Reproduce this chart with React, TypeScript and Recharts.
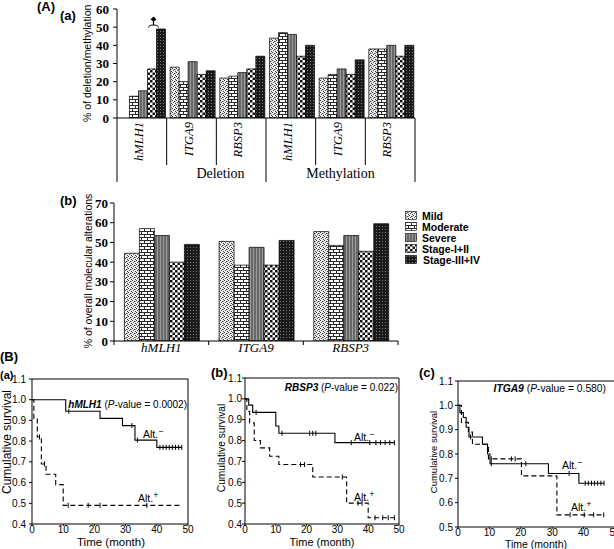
import React from "react";
import { BarChart, Bar, XAxis, YAxis, Legend, ComposedChart, Line, ReferenceLine } from "recharts";

const SERIF = "'Liberation Serif', 'Times New Roman', serif";
const SANS = "'Liberation Sans', Arial, sans-serif";

// ---- panel A(a): deletion / methylation by gene
const groupsA = ["Deletion", "Deletion", "Deletion", "Methylation", "Methylation", "Methylation"];
const genesA = ["hMLH1", "ITGA9", "RBSP3", "hMLH1", "ITGA9", "RBSP3"];
const mildA = [0, 28, 22, 44, 22, 38];
const moderateA = [12, 20, 23, 47, 24, 38];
const severeA = [15, 31, 25, 46, 27, 40];
const earlyA = [27, 24, 27, 34, 24, 34];
const lateA = [49, 26, 34, 40, 32, 40];
const ticksA = [0, 10, 20, 30, 40, 50, 60];

// ---- panel A(b): overall molecular alterations
const genesB = ["hMLH1", "ITGA9", "RBSP3"];
const mildB = [44.5, 50.5, 55.5];
const moderateB = [57, 38.5, 48.5];
const severeB = [53.5, 47.5, 53.5];
const earlyB = [40, 38.5, 45.5];
const lateB = [49, 51, 59.5];
const ticksB = [0, 10, 20, 30, 40, 50, 60, 70];

const seriesNames = ["Mild", "Moderate", "Severe", "Stage-I+II", "Stage-III+IV"];
const seriesKeys = ["mild", "moderate", "severe", "early", "late"];
const seriesFills = ["url(#pMild)", "url(#pModerate)", "url(#pSevere)", "url(#pEarly)", "url(#pLate)"];

// ---- panel B: Kaplan-Meier curves
const kmTicks = [0, 10, 20, 30, 40, 50];
const kmTicksLow = [0.4, 0.5, 0.6, 0.7, 0.8, 0.9, 1.0, 1.1];
const kmTicksHigh = [0.5, 0.6, 0.7, 0.8, 0.9, 1.0, 1.1];

const hmlh1NegTime = [0, 10.8, 21.8, 29, 33, 40, 48];
const hmlh1NegSurv = [1.0, 0.944, 0.91, 0.875, 0.805, 0.77, 0.77];
const hmlh1NegCensor = [11.8, 32, 33.8, 41, 42, 43, 44, 45, 46, 47, 48];
const hmlh1PosTime = [0, 0.6, 1.7, 3, 4.5, 7.6, 10, 48];
const hmlh1PosSurv = [1.0, 0.91, 0.82, 0.69, 0.64, 0.59, 0.49, 0.49];
const hmlh1PosCensor = [2.4, 4, 11.6, 18, 21.8, 36.8];

const rbsp3NegTime = [0, 1.2, 2.5, 10, 11, 29.2, 48.5];
const rbsp3NegSurv = [1.0, 0.97, 0.935, 0.87, 0.835, 0.79, 0.79];
const rbsp3NegCensor = [3.6, 12, 21, 22, 23, 34.5, 40.5, 42.5, 44, 45.5, 47, 48.5];
const rbsp3PosTime = [0, 0.6, 1.5, 3, 5, 8, 11, 22, 33, 40, 48.5];
const rbsp3PosSurv = [1.0, 0.94, 0.885, 0.8, 0.765, 0.725, 0.685, 0.625, 0.5, 0.43, 0.43];
const rbsp3PosCensor = [18, 19.3, 31.6, 36.7, 38, 42.2, 44.7, 46.5, 48.5];

const itga9NegTime = [0, 0.6, 1.7, 2.6, 3.5, 7.8, 9.4, 10.2, 28.8, 38.5, 46.5];
const itga9NegSurv = [1.0, 0.97, 0.95, 0.91, 0.87, 0.84, 0.8, 0.76, 0.72, 0.68, 0.68];
const itga9NegCensor = [4, 10.6, 21.6, 35.4, 40.5, 41.5, 42.5, 43.5, 44.5, 45.5, 46.5];
const itga9PosTime = [0, 1.1, 3.3, 4.6, 9.7, 20.2, 31.5, 46.5];
const itga9PosSurv = [1.0, 0.93, 0.89, 0.84, 0.78, 0.71, 0.55, 0.55];
const itga9PosCensor = [10.6, 17, 18.2, 35.7, 40.2, 43.2, 46.4];

const tableA = genesA.map((g, i) => ({
  id: `${groupsA[i]}-${g}`,
  mild: mildA[i],
  moderate: moderateA[i],
  severe: severeA[i],
  early: earlyA[i],
  late: lateA[i],
}));

const tableB = genesB.map((g, i) => ({
  gene: g,
  mild: mildB[i],
  moderate: moderateB[i],
  severe: severeB[i],
  early: earlyB[i],
  late: lateB[i],
}));

const steps = (times: number[], surv: number[]) => times.map((t, i) => ({ t, s: surv[i] }));
const censored = (times: number[], surv: number[], marks: number[]) =>
  marks.map((c) => {
    let s = surv[0];
    times.forEach((t, i) => {
      if (t <= c) s = surv[i];
    });
    return { t: c, s };
  });

// layout of A(a)
const A_LEFT = 117;
const A_RIGHT = 415;
const A_TOP = 9;
const A_BOTTOM = 118;
const A_BAND = (A_RIGHT - A_LEFT) / genesA.length;

// layout of A(b) (chart coords, chart placed at top 180)
const B_OFFSET = 180;
const B_LEFT = 114;
const B_RIGHT = 398;
const B_TOP = 23;
const B_BOTTOM = 161;
const B_BAND = (B_RIGHT - B_LEFT) / genesB.length;

function GeneTickA(props: any) {
  const { x, payload } = props;
  const i = tableA.findIndex((d) => d.id === payload.value);
  const left = x - A_BAND / 2;
  const long = i === 0 || i === 3;
  return (
    <g>
      <line x1={left} x2={left} y1={A_BOTTOM} y2={long ? 182 : 165} stroke="#000" />
      {i === genesA.length - 1 && (
        <line x1={x + A_BAND / 2} x2={x + A_BAND / 2} y1={A_BOTTOM} y2={182} stroke="#000" />
      )}
      <text
        transform={`translate(${x + 1},${A_BOTTOM + 4}) rotate(-90)`}
        textAnchor="end"
        fontFamily={SERIF}
        fontStyle="italic"
        fontSize={12.5}
        fill="#000"
      >
        {genesA[i]}
      </text>
      {i === 1 && (
        <text x={x + 29} y={178} textAnchor="middle" fontFamily={SERIF} fontSize={14} fill="#000">
          {groupsA[i]}
        </text>
      )}
      {i === 4 && (
        <text x={x} y={178} textAnchor="middle" fontFamily={SERIF} fontSize={14} fill="#000">
          {groupsA[i]}
        </text>
      )}
    </g>
  );
}

function GeneTickB(props: any) {
  const { x, payload } = props;
  const i = genesB.indexOf(payload.value);
  const half = B_BAND / 2;
  return (
    <g>
      <line x1={x - half} x2={x - half} y1={B_BOTTOM} y2={B_BOTTOM + 4} stroke="#000" />
      {i === genesB.length - 1 && (
        <line x1={x + half} x2={x + half} y1={B_BOTTOM} y2={B_BOTTOM + 4} stroke="#000" />
      )}
      <text x={x} y={B_BOTTOM + 11} textAnchor="middle" fontFamily={SERIF} fontStyle="italic" fontSize={13} fill="#000">
        {payload.value}
      </text>
    </g>
  );
}

// value ticks for the bar charts' y axes, mapped with the same linear range as the plot area
const ValueTicks = ({ ticks, max, left, top, bottom, gap }: { ticks: number[]; max: number; left: number; top: number; bottom: number; gap: number }) => (
  <g>
    {ticks.map((v) => {
      const y = bottom - (v / max) * (bottom - top);
      return (
        <g key={v}>
          <line x1={left - 4} x2={left} y1={y} y2={y} stroke="#000" />
          <text x={left - 4 - gap} y={y + 4.5} textAnchor="end" fontFamily={SERIF} fontWeight="bold" fontSize={13} fill="#000">
            {v}
          </text>
        </g>
      );
    })}
  </g>
);

const LegendB = () => (
  <div style={{ fontFamily: SANS, fontWeight: "bold", fontSize: 10.5, color: "#000" }}>
    {seriesNames.map((n, j) => (
      <div key={n} style={{ display: "flex", alignItems: "center", height: 11 }}>
        <svg width={12} height={9}>
          <rect x={0.5} y={0.5} width={11} height={8} fill={seriesFills[j]} stroke="#000" strokeWidth={0.6} />
        </svg>
        <span style={{ marginLeft: j === 4 ? 6 : 5 }}>{n}</span>
      </div>
    ))}
  </div>
);

const CensorMark = (p: any) => {
  if (p.cx == null || p.cy == null) return <g key={`c-${p.index}`} />;
  return <line key={`c-${p.index}`} x1={p.cx} x2={p.cx} y1={p.cy - 2.5} y2={p.cy + 2.5} stroke="#000" strokeWidth={1} />;
};

type KMProps = {
  left: number;
  top: number;
  width: number;
  height: number;
  mTop: number;
  mRight: number;
  yWidth: number;
  xHeight: number;
  yDomain: [number, number];
  yTicks: number[];
  yGap: number;
  neg: { t: number; s: number }[];
  pos: { t: number; s: number }[];
  negC: { t: number; s: number }[];
  posC: { t: number; s: number }[];
};

function KMPanel(k: KMProps) {
  const tickStyle = { fontSize: 10, fill: "#000", fontFamily: SANS };
  return (
    <div style={{ position: "absolute", left: k.left, top: k.top }}>
      <ComposedChart width={k.width} height={k.height} margin={{ top: k.mTop, right: k.mRight, bottom: 0, left: 0 }}>
        <XAxis
          type="number"
          dataKey="t"
          domain={[0, 50]}
          ticks={kmTicks}
          interval={0}
          height={k.xHeight}
          tickSize={2}
          tickMargin={0}
          tick={tickStyle}
          axisLine={{ stroke: "#000" }}
          tickLine={{ stroke: "#000" }}
          allowDataOverflow
        />
        <YAxis
          type="number"
          dataKey="s"
          domain={k.yDomain}
          ticks={k.yTicks}
          interval={0}
          width={k.yWidth}
          tickSize={3}
          tickMargin={k.yGap}
          tick={tickStyle}
          tickFormatter={(v: number) => v.toFixed(1)}
          axisLine={{ stroke: "#000" }}
          tickLine={{ stroke: "#000" }}
          allowDataOverflow
        />
        <ReferenceLine y={k.yDomain[1]} stroke="#000" />
        <ReferenceLine x={50} stroke="#000" />
        <Line data={k.pos} dataKey="s" type="stepAfter" stroke="#000" strokeWidth={1.1} strokeDasharray="5 3" dot={false} isAnimationActive={false} />
        <Line data={k.neg} dataKey="s" type="stepAfter" stroke="#000" strokeWidth={1.1} dot={false} isAnimationActive={false} />
        <Line data={k.posC} dataKey="s" stroke="none" dot={CensorMark} activeDot={false} isAnimationActive={false} />
        <Line data={k.negC} dataKey="s" stroke="none" dot={CensorMark} activeDot={false} isAnimationActive={false} />
      </ComposedChart>
    </div>
  );
}

const AltLabel = ({ x, y, sign, size = 10.5 }: { x: number; y: number; sign: string; size?: number }) => (
  <text x={x} y={y} fontFamily={SANS} fontSize={size} fill="#000">
    Alt.
    <tspan dy={-4} fontSize={size * 0.85}>{sign}</tspan>
  </text>
);

const KMTitle = ({ x, y, gene, p, size }: { x: number; y: number; gene: string; p: string; size: number }) => (
  <text x={x} y={y} textAnchor="end" fontFamily={SANS} fontSize={size} fill="#000">
    <tspan fontWeight="bold" fontStyle="italic">{gene}</tspan>
    {" ("}
    <tspan fontStyle="italic">P</tspan>
    {`-value = ${p})`}
  </text>
);

export default function App() {
  return (
    <div style={{ position: "absolute", left: 0, top: 0, width: 614, height: 549, overflow: "hidden", background: "#fff" }}>
      <svg width={0} height={0} style={{ position: "absolute" }}>
        <defs>
          <pattern id="pMild" width={4} height={4} patternUnits="userSpaceOnUse">
            <rect width={4} height={4} fill="#ececec" />
            <rect x={0} y={0} width={1} height={1} fill="#3a3a3a" />
            <rect x={2} y={1} width={1} height={1} fill="#3a3a3a" />
            <rect x={1} y={2} width={1} height={1} fill="#5a5a5a" />
            <rect x={3} y={3} width={1} height={1} fill="#3a3a3a" />
            <rect x={3} y={1} width={1} height={1} fill="#9a9a9a" />
          </pattern>
          <pattern id="pModerate" width={6} height={6} patternUnits="userSpaceOnUse">
            <rect width={6} height={6} fill="#fff" />
            <rect x={0} y={0} width={6} height={1} fill="#2a2a2a" />
            <rect x={0} y={3} width={6} height={1} fill="#2a2a2a" />
            <rect x={0} y={0} width={1} height={3} fill="#2a2a2a" />
            <rect x={3} y={3} width={1} height={3} fill="#2a2a2a" />
          </pattern>
          <pattern id="pSevere" width={3} height={3} patternUnits="userSpaceOnUse">
            <rect width={3} height={3} fill="#686868" />
            <rect x={1} y={0} width={1} height={3} fill="#9c9c9c" />
          </pattern>
          <pattern id="pEarly" width={5} height={5} patternUnits="userSpaceOnUse">
            <rect width={5} height={5} fill="#fff" />
            <rect x={0} y={0} width={2.5} height={2.5} fill="#111" />
            <rect x={2.5} y={2.5} width={2.5} height={2.5} fill="#111" />
          </pattern>
          <pattern id="pLate" width={3} height={3} patternUnits="userSpaceOnUse">
            <rect width={3} height={3} fill="#1a1a1a" />
            <rect x={1} y={1} width={1} height={1} fill="#7a7a7a" />
          </pattern>
        </defs>
      </svg>

      {/* A(a) */}
      <div style={{ position: "absolute", left: 0, top: 0 }}>
        <BarChart width={614} height={190} data={tableA} margin={{ top: A_TOP, right: 614 - A_RIGHT, bottom: 0, left: A_LEFT - 40 }} barCategoryGap="7%" barGap={0}>
          <XAxis dataKey="id" height={190 - A_BOTTOM} interval={0} tick={GeneTickA} tickLine={false} axisLine={{ stroke: "#000" }} />
          <YAxis type="number" width={40} domain={[0, ticksA[ticksA.length - 1]]} ticks={ticksA} tick={false} tickLine={false} axisLine={{ stroke: "#000" }} allowDataOverflow />
          {seriesKeys.map((key, j) => (
            <Bar key={key} dataKey={key} name={seriesNames[j]} fill={seriesFills[j]} stroke="#000" strokeWidth={0.7} isAnimationActive={false} />
          ))}
        </BarChart>
      </div>

      {/* A(b) */}
      <div style={{ position: "absolute", left: 0, top: B_OFFSET }}>
        <BarChart width={614} height={180} data={tableB} margin={{ top: B_TOP, right: 614 - B_RIGHT, bottom: 0, left: B_LEFT - 40 }} barCategoryGap="11%" barGap={0}>
          <XAxis dataKey="gene" height={180 - B_BOTTOM} interval={0} tick={GeneTickB} tickLine={false} axisLine={{ stroke: "#000" }} />
          <YAxis type="number" width={40} domain={[0, ticksB[ticksB.length - 1]]} ticks={ticksB} tick={false} tickLine={false} axisLine={{ stroke: "#000" }} allowDataOverflow />
          <Legend layout="vertical" align="center" verticalAlign="middle" wrapperStyle={{ left: 405, top: 30, width: 110 }} content={LegendB} />
          {seriesKeys.map((key, j) => (
            <Bar key={key} dataKey={key} name={seriesNames[j]} fill={seriesFills[j]} stroke="#000" strokeWidth={0.7} isAnimationActive={false} />
          ))}
        </BarChart>
      </div>

      {/* B(a) hMLH1 */}
      <KMPanel
        left={0}
        top={370}
        width={200}
        height={179}
        mTop={9}
        mRight={12}
        yWidth={32}
        xHeight={25}
        yDomain={[0.4, 1.1]}
        yTicks={kmTicksLow}
        yGap={3}
        neg={steps(hmlh1NegTime, hmlh1NegSurv)}
        pos={steps(hmlh1PosTime, hmlh1PosSurv)}
        negC={censored(hmlh1NegTime, hmlh1NegSurv, hmlh1NegCensor)}
        posC={censored(hmlh1PosTime, hmlh1PosSurv, hmlh1PosCensor)}
      />
      {/* B(b) RBSP3 */}
      <KMPanel
        left={200}
        top={370}
        width={210}
        height={179}
        mTop={8}
        mRight={11}
        yWidth={45}
        xHeight={25}
        yDomain={[0.4, 1.1]}
        yTicks={kmTicksLow}
        yGap={0}
        neg={steps(rbsp3NegTime, rbsp3NegSurv)}
        pos={steps(rbsp3PosTime, rbsp3PosSurv)}
        negC={censored(rbsp3NegTime, rbsp3NegSurv, rbsp3NegCensor)}
        posC={censored(rbsp3PosTime, rbsp3PosSurv, rbsp3PosCensor)}
      />
      {/* B(c) ITGA9 */}
      <KMPanel
        left={404}
        top={370}
        width={211}
        height={179}
        mTop={11}
        mRight={0}
        yWidth={54}
        xHeight={22}
        yDomain={[0.5, 1.1]}
        yTicks={kmTicksHigh}
        yGap={2}
        neg={steps(itga9NegTime, itga9NegSurv)}
        pos={steps(itga9PosTime, itga9PosSurv)}
        negC={censored(itga9NegTime, itga9NegSurv, itga9NegCensor)}
        posC={censored(itga9PosTime, itga9PosSurv, itga9PosCensor)}
      />

      {/* text layer */}
      <svg width={614} height={549} style={{ position: "absolute", left: 0, top: 0, pointerEvents: "none" }}>
        <ValueTicks ticks={ticksA} max={ticksA[ticksA.length - 1]} left={A_LEFT} top={A_TOP} bottom={A_BOTTOM} gap={4} />
        <ValueTicks ticks={ticksB} max={ticksB[ticksB.length - 1]} left={B_LEFT} top={B_OFFSET + B_TOP} bottom={B_OFFSET + B_BOTTOM} gap={2} />

        <g fontFamily={SANS} fontWeight="bold" fontSize={13} fill="#000">
          <text x={37} y={11}>(A)</text>
          <text x={60} y={20}>(a)</text>
          <text x={60} y={205}>(b)</text>
          <text x={0} y={361}>(B)</text>
          <text x={0} y={379} fontSize={11}>(a)</text>
          <text x={211} y={377}>(b)</text>
          <text x={419} y={377}>(c)</text>
        </g>

        <text transform="translate(91,122) rotate(-90)" fontFamily={SANS} fontSize={10.5} fill="#000">
          % of deletion/methylation
        </text>
        <text transform="translate(91.5,271) rotate(-90)" textAnchor="middle" fontFamily={SANS} fontSize={10.5} fill="#000">
          % of overall molecular alterations
        </text>

        {/* significance mark over hMLH1 deletion */}
        <path d="M148.5,27.5 Q148.5,25 153.5,25 Q158.5,25 158.5,27.5" fill="none" stroke="#000" strokeWidth={1} />
        <line x1={153.5} x2={153.5} y1={20} y2={25} stroke="#000" strokeWidth={1.2} />
        <path d="M150.5,19.5 L153.5,16.5 L156.5,19.5 L153.5,21.5 Z" fill="#000" />

        {/* KM axis titles */}
        <text transform="translate(11,442) rotate(-90)" textAnchor="middle" fontFamily={SANS} fontSize={12} fill="#000">
          Cumulative survival
        </text>
        <text transform="translate(225,448) rotate(-90)" textAnchor="middle" fontFamily={SANS} fontSize={10.2} fill="#000">
          Cumulative survival
        </text>
        <text transform="translate(437,452) rotate(-90)" textAnchor="middle" fontFamily={SANS} fontSize={9.5} fill="#000">
          Cumulative survival
        </text>
        <text x={111} y={546} textAnchor="middle" fontFamily={SANS} fontSize={11.5} fill="#000">Time (month)</text>
        <text x={322} y={546} textAnchor="middle" fontFamily={SANS} fontSize={11} fill="#000">Time (month)</text>
        <text x={536} y={547.5} textAnchor="middle" fontFamily={SANS} fontSize={10.5} fill="#000">Time (month)</text>

        <KMTitle x={187} y={408} gene="hMLH1" p="0.0002" size={10} />
        <KMTitle x={398} y={391} gene="RBSP3" p="0.022" size={10} />
        <KMTitle x={606} y={392} gene="ITGA9" p="0.580" size={10.3} />

        <AltLabel x={143} y={438} sign="−" />
        <AltLabel x={138} y={502} sign="+" />
        <AltLabel x={354} y={441} sign="−" />
        <AltLabel x={354} y={501} sign="+" />
        <AltLabel x={562} y={469} sign="−" />
        <AltLabel x={571} y={511} sign="+" />
      </svg>
    </div>
  );
}
